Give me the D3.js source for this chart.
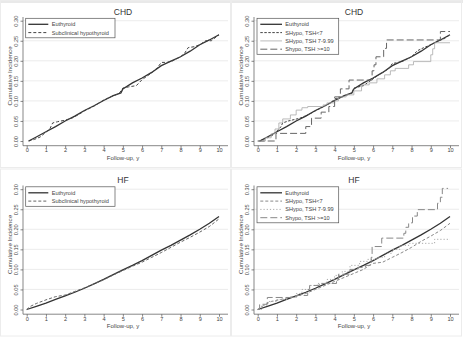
<!DOCTYPE html>
<html>
<head>
<meta charset="utf-8">
<script src="https://cdn.jsdelivr.net/npm/d3@7"></script>
<style>
  body { margin: 0; background: #fff; }
  svg { display: block; font-family: "Liberation Sans", Arial, sans-serif; }
</style>
</head>
<body>
<svg id="chart" width="463" height="337"></svg>
<script>
// ----------------------------------------------------
// data: [follow-up (y), cumulative incidence]
// ----------------------------------------------------
const xTicks = [0, 1, 2, 3, 4, 5, 6, 7, 8, 9, 10];
const yTicks = [0, 0.05, 0.10, 0.15, 0.20, 0.25, 0.30];

const chdEuthyroid = [[0.1,0],[0.5,0.01],[1,0.023],[1.5,0.036],[2,0.05],[2.5,0.062],[3,0.076],[3.5,0.088],[4,0.101],[4.5,0.113],[4.9,0.12],[5,0.13],[5.5,0.145],[6,0.157],[6.5,0.171],[7,0.188],[7.5,0.199],[8,0.21],[8.5,0.224],[9,0.24],[9.5,0.252],[10,0.265]];
const chdSubclinical = [[0.1,0],[0.4,0.004],[0.7,0.01],[1,0.022],[1.2,0.03],[1.35,0.045],[1.6,0.048],[2,0.052],[2.4,0.058],[2.7,0.066],[3,0.075],[3.5,0.087],[4,0.102],[4.5,0.113],[4.8,0.118],[5,0.132],[5.3,0.135],[5.7,0.138],[6,0.153],[6.5,0.17],[6.8,0.183],[7,0.196],[7.3,0.196],[7.6,0.2],[8,0.21],[8.2,0.218],[8.4,0.233],[8.7,0.235],[9,0.24],[9.3,0.25],[9.6,0.25],[10,0.265]];
const chdTshLt7 = [[0.1,0],[0.5,0.008],[0.8,0.015],[1,0.025],[1.2,0.035],[1.3,0.045],[1.6,0.05],[2.2,0.057],[2.6,0.065],[3,0.075],[3.4,0.085],[3.8,0.095],[4,0.105],[4.4,0.11],[4.9,0.12],[5,0.132],[5.5,0.138],[6,0.155],[6.4,0.168],[6.8,0.18],[7,0.193],[7.5,0.198],[8,0.21],[8.3,0.225],[8.6,0.232],[9,0.24],[9.4,0.25],[9.7,0.255],[10,0.265]];
const chdTsh7to10 = [[0,0],[0.4,0.008],[0.7,0.018],[0.9,0.03],[1.1,0.045],[1.3,0.055],[1.7,0.065],[2,0.077],[2.3,0.083],[2.6,0.086],[3.4,0.09],[3.6,0.095],[4,0.1],[4.2,0.11],[4.6,0.115],[5,0.125],[5.4,0.14],[5.8,0.145],[6.2,0.155],[6.6,0.165],[6.9,0.175],[7.15,0.181],[7.85,0.19],[8.1,0.198],[9,0.215],[9.1,0.23],[9.2,0.245],[10,0.245]];
const chdTshGe10 = [[0,0],[0.95,0.019],[2.5,0.036],[2.8,0.057],[3.3,0.072],[3.7,0.086],[4,0.11],[4.3,0.13],[4.75,0.152],[5.95,0.175],[6.05,0.19],[6.15,0.21],[6.55,0.231],[6.7,0.252],[9.5,0.273],[10,0.273]];

const hfEuthyroid = [[0,0],[0.5,0.008],[1,0.016],[1.5,0.025],[2,0.034],[2.5,0.043],[3,0.053],[3.5,0.064],[4,0.075],[4.5,0.087],[5,0.099],[5.5,0.11],[6,0.122],[6.5,0.135],[7,0.148],[7.5,0.16],[8,0.173],[8.5,0.186],[9,0.2],[9.5,0.215],[10,0.232]];
const hfSubclinical = [[0,0],[0.2,0.008],[0.5,0.015],[1,0.024],[1.5,0.032],[2,0.036],[2.5,0.045],[3,0.054],[3.5,0.064],[4,0.074],[4.5,0.086],[5,0.097],[5.5,0.108],[6,0.118],[6.5,0.13],[7,0.142],[7.5,0.155],[8,0.168],[8.5,0.18],[9,0.193],[9.5,0.207],[10,0.226]];
const hfTshLt7 = [[0,0],[0.3,0.01],[0.7,0.02],[1.2,0.025],[1.6,0.03],[2,0.033],[2.5,0.04],[3,0.05],[3.5,0.06],[4,0.07],[4.5,0.08],[5,0.09],[5.5,0.1],[5.8,0.11],[6,0.115],[6.5,0.118],[7,0.13],[7.5,0.142],[8,0.155],[8.5,0.17],[9,0.183],[9.5,0.197],[10,0.215]];
const hfTsh7to10 = [[0,0],[0.2,0.01],[0.5,0.02],[1,0.025],[1.5,0.03],[2,0.04],[2.3,0.05],[2.7,0.06],[3.1,0.065],[3.6,0.075],[4,0.085],[4.4,0.095],[4.8,0.11],[5.3,0.12],[5.7,0.125],[6.2,0.13],[6.6,0.14],[7,0.15],[7.4,0.16],[7.9,0.165],[9.2,0.175],[10,0.175]];
const hfTshGe10 = [[0,0],[0.1,0.013],[0.5,0.03],[2,0.035],[2.6,0.05],[2.7,0.06],[3.2,0.065],[4.1,0.075],[4.2,0.088],[4.8,0.1],[5.2,0.105],[5.6,0.11],[5.9,0.13],[5.95,0.157],[6.45,0.178],[7.6,0.19],[7.7,0.205],[7.85,0.216],[8.05,0.233],[8.3,0.249],[9.35,0.265],[9.5,0.28],[9.6,0.302],[9.9,0.302]];

const labelsTwo = ["Euthyroid", "Subclinical hypothyroid"];
const labelsFour = ["Euthyroid", "SHypo, TSH<7", "SHypo, TSH 7-9.99", "Shypo, TSH >=10"];

// line styles (not data)
const solid = { color: "#333", width: 1.3, dash: null, step: false };
const dashed = { color: "#444", width: 1, dash: "3,2", step: false };

const svg = d3.select("#chart");

// thin grey band along the top of the scan
svg.append("rect").attr("x", 0).attr("y", 0).attr("width", 463).attr("height", 3).attr("fill", "#e9e9e9");

// panel geometry, shared by all four
const x = d3.scaleLinear().domain([0, 10]).range([26.7, 219]);
const y = d3.scaleLinear().domain([0, 0.30]).range([141, 20.7]);
const plotLeft = 23, plotRight = 228, plotTop = 17, plotBottom = 145.7;

function drawPanel(ox, oy, title, series, labels) {
  const g = svg.append("g").attr("transform", "translate(" + ox + "," + oy + ")");

  // faint panel frame
  g.append("rect")
    .attr("x", 0.5).attr("y", 0.5).attr("width", 230).attr("height", 167)
    .attr("fill", "none").attr("stroke", "#ececec");

  // grid
  g.append("g").selectAll("line")
    .data(yTicks.filter(d => d > 0))
    .enter().append("line")
    .attr("x1", plotLeft).attr("x2", plotRight)
    .attr("y1", d => y(d)).attr("y2", d => y(d))
    .attr("stroke", "#e4e4e4").attr("stroke-width", 0.7);

  // axes
  const xAxis = g.append("g")
    .attr("transform", "translate(0," + plotBottom + ")")
    .call(d3.axisBottom(x).tickValues(xTicks).tickFormat(d3.format("d")).tickSize(2.5));
  xAxis.select(".domain").attr("d", "M" + plotLeft + ",0H" + plotRight);
  xAxis.selectAll(".tick text").attr("dy", null).attr("y", 6.5);

  const yAxis = g.append("g")
    .attr("transform", "translate(" + plotLeft + ",0)")
    .call(d3.axisLeft(y).tickValues(yTicks).tickFormat(d3.format(".2f")).tickSize(2.5));
  yAxis.select(".domain").attr("d", "M0," + plotTop + "V" + plotBottom);
  yAxis.selectAll(".tick text")
    .attr("x", null).attr("dy", null)
    .attr("text-anchor", "middle")
    .attr("transform", "translate(-5.5,0) rotate(-90)");

  [xAxis, yAxis].forEach(a => {
    a.selectAll(".domain, .tick line").attr("stroke", "#555").attr("stroke-width", 0.7);
    a.selectAll(".tick text").attr("fill", "#444").attr("font-size", 5.6).attr("font-family", null);
  });

  // titles
  g.append("text").attr("x", 123).attr("y", 14.5).attr("text-anchor", "middle")
    .attr("font-size", 8.5).attr("fill", "#333").text(title);
  g.append("text").attr("x", 123).attr("y", 159.8).attr("text-anchor", "middle")
    .attr("font-size", 6).attr("fill", "#444").text("Follow-up, y");
  g.append("text").attr("transform", "translate(12.3,76) rotate(-90)").attr("text-anchor", "middle")
    .attr("font-size", 6.2).attr("fill", "#444").text("Cumulative Incidence");

  // curves
  series.forEach(s => {
    const line = d3.line()
      .x(d => x(d[0])).y(d => y(d[1]))
      .curve(s.style.step ? d3.curveStepAfter : d3.curveLinear);
    g.append("path")
      .datum(s.data)
      .attr("d", line)
      .attr("fill", "none")
      .attr("stroke", s.style.color)
      .attr("stroke-width", s.style.width)
      .attr("stroke-dasharray", s.style.dash);
  });

  // legend
  const rowH = 8.3;
  const lx = labels.length > 2 ? 26 : 25.7;
  const lw = labels.length > 2 ? 81.7 : 89.3;
  const lh = labels.length > 2 ? 36 : 19.5;
  const leg = g.append("g").attr("transform", "translate(" + lx + ",18.3)");
  leg.append("rect").attr("width", lw).attr("height", lh)
    .attr("fill", "#fff").attr("stroke", "#555").attr("stroke-width", 0.7);
  const sampleX = labels.length > 2 ? [3.3, 25] : [2.6, 22.6];
  const textX = labels.length > 2 ? 28.3 : 26;
  labels.forEach((lab, i) => {
    const st = series[i].style;
    const yy = 6 + i * rowH;
    leg.append("line")
      .attr("x1", sampleX[0]).attr("x2", sampleX[1]).attr("y1", yy).attr("y2", yy)
      .attr("stroke", st.color).attr("stroke-width", st.width).attr("stroke-dasharray", st.dash);
    leg.append("text").attr("x", textX).attr("y", yy + 2)
      .attr("font-size", 5.6).attr("fill", "#444").text(lab);
  });
}

// ----------------------------------------------------
// the four panels
// ----------------------------------------------------
drawPanel(0, 0, "CHD", [
  { data: chdEuthyroid, style: solid },
  { data: chdSubclinical, style: dashed }
], labelsTwo);

drawPanel(231, 0, "CHD", [
  { data: chdEuthyroid, style: solid },
  { data: chdTshLt7, style: { color: "#444", width: 1, dash: "2.5,1.5", step: false } },
  { data: chdTsh7to10, style: { color: "#aaa", width: 0.8, dash: null, step: true } },
  { data: chdTshGe10, style: { color: "#666", width: 1, dash: "7,3", step: true } }
], labelsFour);

drawPanel(0, 168.5, "HF", [
  { data: hfEuthyroid, style: solid },
  { data: hfSubclinical, style: { color: "#666", width: 1, dash: "3,2", step: false } }
], labelsTwo);

drawPanel(231, 168.5, "HF", [
  { data: hfEuthyroid, style: solid },
  { data: hfTshLt7, style: { color: "#888", width: 1, dash: "3,2", step: false } },
  { data: hfTsh7to10, style: { color: "#aaa", width: 1, dash: "1.2,2", step: true } },
  { data: hfTshGe10, style: { color: "#888", width: 1, dash: "7,3", step: true } }
], labelsFour);
</script>
</body>
</html>
